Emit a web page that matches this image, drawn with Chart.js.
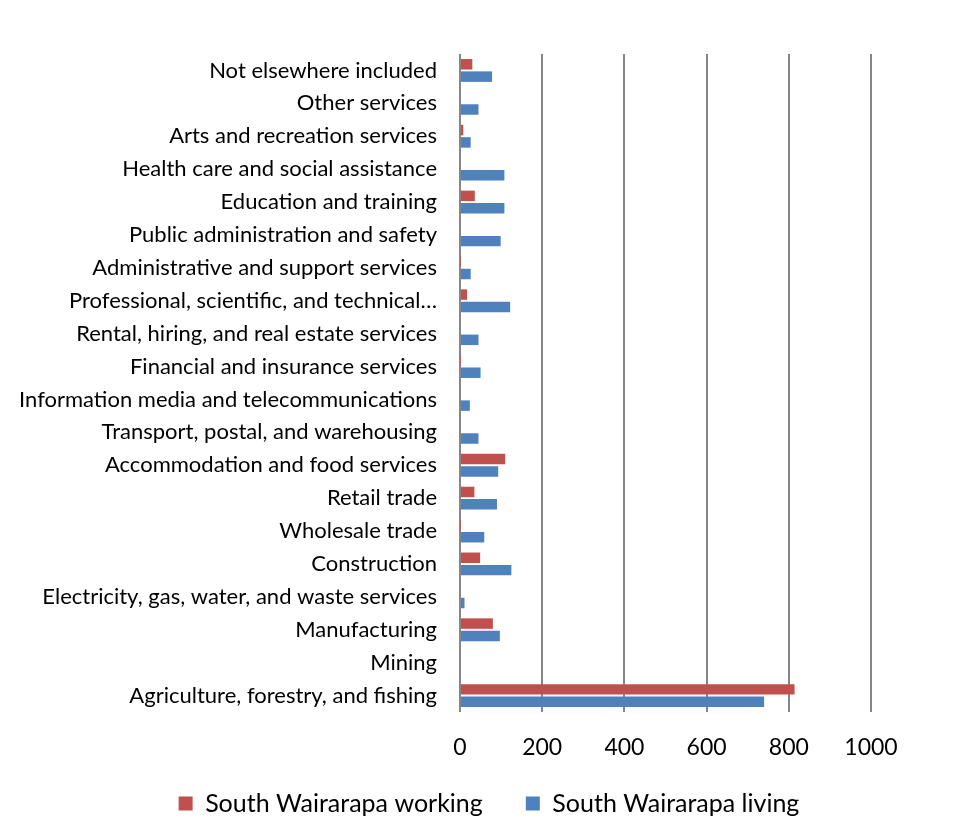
<!DOCTYPE html>
<html>
<head>
<meta charset="utf-8">
<script src="https://cdn.jsdelivr.net/npm/chart.js@4.4.0/dist/chart.umd.min.js"></script>
<style>
  html, body { margin: 0; padding: 0; background: #fff; }
  #wrap { width: 966px; height: 818px; }
</style>
</head>
<body>
<div id="wrap"><canvas id="myChart" width="966" height="818"></canvas></div>
<script>
var industries = [
	"Not elsewhere included",
	"Other services",
	"Arts and recreation services",
	"Health care and social assistance",
	"Education and training",
	"Public administration and safety",
	"Administrative and support services",
	"Professional, scientific, and technical…",
	"Rental, hiring, and real estate services",
	"Financial and insurance services",
	"Information media and telecommunications",
	"Transport, postal, and warehousing",
	"Accommodation and food services",
	"Retail trade",
	"Wholesale trade",
	"Construction",
	"Electricity, gas, water, and waste services",
	"Manufacturing",
	"Mining",
	"Agriculture, forestry, and fishing"
];
var working = [30, 0, 8, 0, 36, 0, 1, 17, 0, 1, 0, 0, 110, 35, 1, 49, 0, 80, 0, 814];
var living = [78, 45, 26, 108, 108, 99, 26, 122, 45, 50, 24, 45, 93, 90, 59, 125, 11, 97, 0, 740];
var xTicks = [0, 200, 400, 600, 800, 1000];

var font = "Lato, 'Open Sans', sans-serif";
var ctx = document.getElementById("myChart");

// labels may spill outside the scale box
function noLabelClip(scale) {
	scale._computeLabelArea = function() { return undefined; };
}

var myChart = new Chart(ctx, {
	type: "bar",
	data: {
		labels: industries,
		datasets: [
			{
				label: "South Wairarapa working",
				data: working,
				backgroundColor: "#C0504D",
				categoryPercentage: 0.75,
				barPercentage: 0.85
			},
			{
				label: "South Wairarapa living",
				data: living,
				backgroundColor: "#4F81BD",
				categoryPercentage: 0.75,
				barPercentage: 0.85
			}
		]
	},
	options: {
		indexAxis: "y",
		responsive: false,
		animation: false,
		// left padding only shifts the legend centre; y axis width makes up for it
		layout: { padding: { top: 54, right: 95, bottom: -8, left: 107 } },
		scales: {
			x: {
				min: 0,
				max: 1000,
				afterBuildTicks: function(scale) {
					scale.ticks = xTicks.map(function(v) { return { value: v }; });
				},
				afterFit: function(scale) { scale.height = 36; noLabelClip(scale); },
				grid: { color: "#868686", lineWidth: 2, drawTicks: false },
				border: { display: false },
				ticks: {
					color: "#000",
					font: { family: font, size: 23 },
					padding: 22,
					callback: function(v) { return String(v); }
				}
			},
			y: {
				afterFit: function(scale) { scale.width = 460 - 107; noLabelClip(scale); },
				grid: { display: false },
				border: { display: false },
				ticks: { color: "#000", font: { family: font, size: 22 }, padding: 15, autoSkip: false }
			}
		},
		plugins: {
			legend: {
				position: "bottom",
				labels: {
					color: "#000",
					font: { family: font, size: 25 },
					boxWidth: 14,
					boxHeight: 14,
					padding: 43
				}
			},
			tooltip: { enabled: false }
		}
	}
});
</script>
</body>
</html>
